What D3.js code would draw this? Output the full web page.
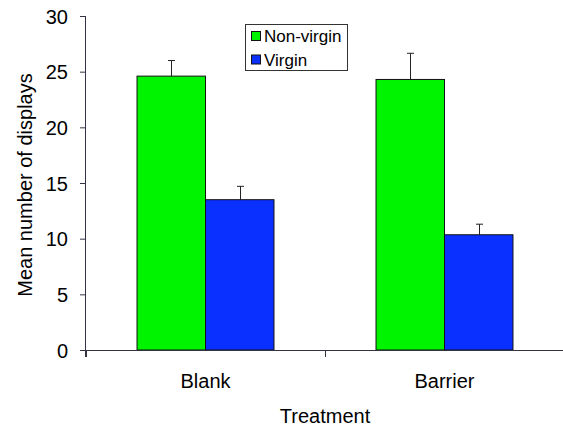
<!DOCTYPE html>
<html><head><meta charset="utf-8">
<script src="https://cdn.jsdelivr.net/npm/d3@7"></script>
<style>body{margin:0;background:#fff}svg{display:block}text{font-family:"Liberation Sans",Arial,sans-serif}</style>
</head><body><svg id="c" width="563" height="426"></svg>
<script>
const categories = ["Blank", "Barrier"];
const series = ["Non-virgin", "Virgin"];
const nonVirgin = [24.6, 24.3];
const virgin = [13.5, 10.35];
const nonVirginErr = [1.4, 2.35];
const virginErr = [1.2, 0.95];
const yTicks = [0, 5, 10, 15, 20, 25, 30];
const colors = ["#00F400", "#0A30FF"];

const svg = d3.select("#c");
const m = {l: 86};
const FS = 20;
const x0 = d3.scaleBand().domain(categories).range([m.l, m.l + 478]).paddingInner(0).paddingOuter(0);
const x1 = d3.scaleBand().domain(series).range([0, x0.bandwidth()]).paddingInner(0).paddingOuter(0.745);
const y = d3.scaleLinear().domain([0, 30]).range([350, 16]);

const data = categories.map((c, i) => ({c, vals: [
  {s: series[0], v: nonVirgin[i], e: nonVirginErr[i]},
  {s: series[1], v: virgin[i], e: virginErr[i]}]}));

const axisCol = "#333344";
const g = svg.append("g");
data.forEach(d => {
  d.vals.forEach((b, j) => {
    const bx = x0(d.c) + x1(b.s);
    const cx = Math.round(bx + x1.bandwidth()/2) + 0.5;
    g.append("line").attr("x1", cx).attr("x2", cx)
      .attr("y1", y(b.v)).attr("y2", y(b.v + b.e)).attr("stroke", "#222").attr("stroke-width", 1);
    g.append("line").attr("x1", cx - 3.5).attr("x2", cx + 3.5)
      .attr("y1", y(b.v + b.e)).attr("y2", y(b.v + b.e)).attr("stroke", "#222").attr("stroke-width", 1);
    g.append("rect").attr("x", bx).attr("y", y(b.v)).attr("width", x1.bandwidth())
      .attr("height", y(0) - y(b.v)).attr("fill", colors[j]).attr("stroke", "#111").attr("stroke-width", 1);
  });
});

// y axis
const ya = svg.append("g").attr("transform", `translate(${m.l},0)`)
  .call(d3.axisLeft(y).tickValues(yTicks).tickSize(6).tickPadding(12));
ya.select(".domain").attr("stroke", axisCol).attr("d", `M-0.5,16V357`);
ya.selectAll(".tick line").attr("stroke", axisCol);
ya.selectAll("text").attr("font-size", FS).attr("fill", "#000").attr("font-family", "Liberation Sans, Arial, sans-serif").attr("dy", "0.36em");

// x axis
const xa = svg.append("g").attr("transform", `translate(0,${y(0)})`)
  .call(d3.axisBottom(x0).tickSize(0).tickPadding(24));
xa.select(".domain").attr("stroke", axisCol).attr("d", `M${m.l},0.5H${m.l+478}`);
xa.selectAll("text").attr("font-size", FS).attr("fill", "#000").attr("font-family", "Liberation Sans, Arial, sans-serif");
const bounds = [m.l, x0("Barrier"), m.l + 478];
xa.selectAll(".sep").data(bounds).enter().append("line").attr("class","sep")
  .attr("x1", d => d + 0.5).attr("x2", d => d + 0.5).attr("y1", 0).attr("y2", 7).attr("stroke", axisCol);

// titles
svg.append("text").attr("x", 325).attr("y", 423).attr("text-anchor", "middle").attr("font-size", FS).text("Treatment");
svg.append("text").attr("transform", "translate(32,185) rotate(-90)").attr("text-anchor", "middle").attr("font-size", FS).text("Mean number of displays");

// legend
const lg = svg.append("g");
lg.append("rect").attr("x", 245.5).attr("y", 24.5).attr("width", 102).attr("height", 46).attr("fill", "#fff").attr("stroke", "#333").attr("stroke-width", 1);
series.forEach((s, i) => {
  const yy = 31 + i * 23.5;
  lg.append("rect").attr("x", 251.5).attr("y", yy + 0.5).attr("width", 9).attr("height", 9).attr("fill", colors[i]).attr("stroke", "#111");
  lg.append("text").attr("x", 264).attr("y", yy + 11).attr("font-size", 17).text(s);
});
</script></body></html>
